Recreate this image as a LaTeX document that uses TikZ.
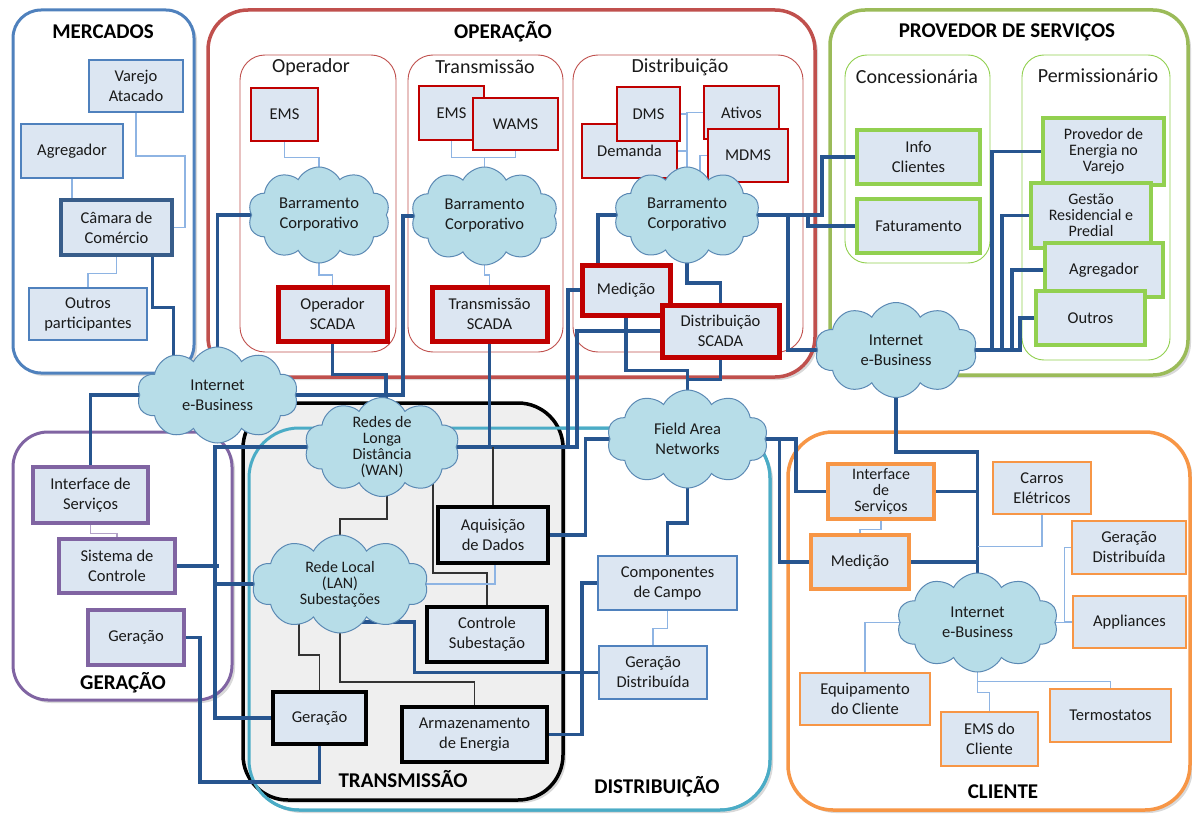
\documentclass[tikz,border=0pt]{standalone}
\usepackage{fontspec}
\setmainfont{Carlito}
\usetikzlibrary{shapes.symbols,calc,shadows}

\definecolor{nodefill}{HTML}{DCE6F2}
\definecolor{buscol}{HTML}{27558F}
\definecolor{linkcol}{HTML}{8EB4E3}
\definecolor{cloudfill}{HTML}{B7DDE8}
\definecolor{cloudline}{HTML}{5B89B4}
\definecolor{mercblue}{HTML}{4F81BD}
\definecolor{mercdark}{HTML}{385D8A}
\definecolor{opred}{HTML}{C0504D}
\definecolor{boxred}{HTML}{C00000}
\definecolor{provgreen}{HTML}{9BBB59}
\definecolor{boxgreen}{HTML}{92D050}
\definecolor{genpurple}{HTML}{8064A2}
\definecolor{linkpurple}{HTML}{B3A2C7}
\definecolor{distteal}{HTML}{4BACC6}
\definecolor{custorange}{HTML}{F79646}
\definecolor{transfill}{HTML}{EFEFEF}
\definecolor{textcol}{HTML}{1A1A1A}

\newcommand\bodyfont{\fontsize{16.5}{20}\selectfont}
\newcommand\tightfont{\fontsize{16}{16}\selectfont}
\newcommand\titlefont{\fontsize{21}{24}\selectfont\bfseries}
\newcommand\subfont{\fontsize{20}{24}\selectfont}

\pgfdeclarelayer{back}
\pgfdeclarelayer{wires}
\pgfsetlayers{back,wires,main}

\tikzset{
  area/.style={line width=3pt, fill=white,
    drop shadow={shadow xshift=3pt, shadow yshift=-3pt, opacity=0.3}},
  subarea/.style={line width=0.9pt, fill=white},
  sz/.style 2 args={minimum width=#1, minimum height=#2},
  box/.style={draw, fill=nodefill, align=center, inner sep=1pt,
    font=\bodyfont, text=textcol},
  tight/.style={font=\tightfont},
  mbox/.style={box, draw=mercblue, line width=1.5pt},
  mboxb/.style={box, draw=mercdark, line width=4.5pt},
  rbox/.style={box, draw=boxred, line width=1.5pt},
  rboxb/.style={box, draw=boxred, line width=5pt},
  gbox/.style={box, draw=boxgreen, line width=4.5pt},
  pbox/.style={box, draw=genpurple, line width=3.5pt},
  kbox/.style={box, draw=black, line width=4pt},
  obox/.style={box, draw=custorange, line width=1.5pt},
  oboxb/.style={box, draw=custorange, line width=4.5pt},
  cloudbox/.style={cloud, cloud puffs=10, cloud puff arc=125,
    cloud ignores aspect, draw=cloudline, fill=cloudfill,
    line width=1pt, inner sep=0pt},
  cloudtxt/.style={font=\bodyfont, align=center, text=textcol},
  cloudtight/.style={font=\tightfont, align=center, text=textcol},
  title/.style={font=\titlefont, text=black},
  sublabel/.style={font=\subfont, text=textcol},
  bus/.style={draw=buscol, line width=3.5pt, line join=miter},
  link/.style={draw=linkcol, line width=1.4pt},
  blink/.style={draw=black!80, line width=1.2pt},
  plink/.style={draw=linkpurple, line width=1.4pt},
}

\begin{document}
\begin{tikzpicture}[x=1pt, y=-1pt]
\useasboundingbox (0,0) rectangle (1192,816);

% ---------- domain frames ----------
\begin{pgfonlayer}{back}
  \draw[area, draw=mercblue, rounded corners=28pt] (13,10) rectangle (194,373);
  \draw[area, draw=opred, line width=3.5pt, rounded corners=40pt] (208,10) rectangle (815,377);
  \draw[subarea, draw=opred, rounded corners=25pt] (240,55) rectangle (396,352);
  \draw[subarea, draw=opred, rounded corners=25pt] (408,55) rectangle (563,352);
  \draw[subarea, draw=opred, rounded corners=25pt] (573,55) rectangle (803,352);
  \draw[area, draw=provgreen, line width=3.5pt, rounded corners=35pt] (830,10) rectangle (1188,375);
  \draw[subarea, draw=boxgreen, rounded corners=22pt] (845,55) rectangle (990,263);
  \draw[subarea, draw=boxgreen, rounded corners=22pt] (1022,55) rectangle (1170,360);
  \draw[area, draw=genpurple, rounded corners=35pt] (13,432) rectangle (232,700);
  \draw[area, draw=custorange, line width=3.5pt, rounded corners=45pt] (788,432) rectangle (1190,810);
  \draw[area, draw=distteal, rounded corners=50pt] (249,428) rectangle (770,810);
  \draw[area, draw=black, fill=transfill, line width=3.5pt, rounded corners=45pt] (243,403) rectangle (563,800);
  \draw[draw=distteal, line width=3pt, rounded corners=50pt] (249,428) rectangle (770,810);
\end{pgfonlayer}

% ---------- titles ----------
\node[title] (tMerc) at (103,32) {MERCADOS};
\node[title] (tOper) at (503,32) {OPERAÇÃO};
\node[title] (tProv) at (1007,32) {PROVEDOR DE SERVIÇOS};
\node[title] (tGer) at (123,683) {GERAÇÃO};
\node[title] (tTrans) at (403,779) {TRANSMISSÃO};
\node[title] (tDist) at (657,787) {DISTRIBUIÇÃO};
\node[title] (tCli) at (1003,792) {CLIENTE};
\node[sublabel] (sOp) at (311,67) {Operador};
\node[sublabel] (sTr) at (485,67) {Transmissão};
\node[sublabel] (sDi) at (680,67) {Distribuição};
\node[sublabel] (sCo) at (917,77) {Concessionária};
\node[sublabel] (sPe) at (1098,76) {Permissionário};

% ---------- Mercados ----------
\node[mbox, sz={94}{52}] (varejo) at (136,86) {Varejo\\Atacado};
\node[mbox, sz={102}{54}] (agreg) at (72,151) {Agregador};
\node[mboxb, sz={111}{55}] (camara) at (116.5,227.5) {Câmara de\\Comércio};
\node[mbox, sz={118}{52}] (outros) at (88,314) {Outros\\participantes};

% ---------- Operação ----------
\node[rbox, sz={67}{53}] (emsO) at (284.5,114.5) {EMS};
\node[cloudbox, sz={142}{96}, label={[cloudtxt]center:Barramento\\Corporativo}] (busO) at (319,215) {};
\node[rboxb, sz={109}{54}] (scadaO) at (332.5,314) {Operador\\SCADA};

\node[rbox, sz={65}{54}] (emsT) at (451.5,113) {EMS};
\node[rbox, sz={85}{52}] (wams) at (515.5,124) {WAMS};
\node[cloudbox, sz={147}{98}, label={[cloudtxt]center:Barramento\\Corporativo}] (busT) at (484.5,216) {};
\node[rboxb, sz={115}{54}] (scadaT) at (489.5,314) {Transmissão\\SCADA};

\node[rbox, sz={95}{54}] (demanda) at (629.5,151) {Demanda};
\node[rbox, sz={63}{54}] (dms) at (648.5,114) {DMS};
\node[rbox, sz={75}{53}] (ativos) at (741.5,112.5) {Ativos};
\node[rbox, sz={80}{53}] (mdms) at (748,155.5) {MDMS};
\node[cloudbox, sz={146}{96}, label={[cloudtxt]center:Barramento\\Corporativo}] (busD) at (687,215) {};
\node[rboxb, sz={88}{50}] (medD) at (626,290) {Medição};
\node[rboxb, sz={117}{52}] (scadaD) at (720.5,331) {Distribuição\\SCADA};

% ---------- Provedor de serviços ----------
\node[gbox, sz={123}{54}] (info) at (918.5,157) {Info\\Clientes};
\node[gbox, sz={123}{54}] (fat) at (918.5,226) {Faturamento};
\node[gbox, tight, sz={121}{67}] (prov) at (1103.5,151.5) {Provedor de\\Energia no\\Varejo};
\node[gbox, tight, sz={120}{65}] (gestao) at (1091,215.5) {Gestão\\Residencial e\\Predial};
\node[gbox, sz={118}{54}] (agregP) at (1104,270) {Agregador};
\node[gbox, sz={109}{54}] (outrosP) at (1090.5,318) {Outros};
\node[cloudbox, sz={162}{95}, label={[cloudtxt]center:Internet\\e-Business}] (inet2) at (896,350) {};

% ---------- networks ----------
\node[cloudbox, sz={161}{96}, label={[cloudtxt]center:Internet\\e-Business}] (inet1) at (217.5,395) {};
\node[cloudbox, sz={155}{99}, label={[cloudtight]center:Redes de\\Longa\\Distância\\(WAN)}] (wan) at (382,447) {};

% ---------- Geração ----------
\node[pbox, sz={115}{56}] (ifaceG) at (90.5,495) {Interface de\\Serviços};
\node[pbox, sz={116}{54}] (sisG) at (117,566) {Sistema de\\Controle};
\node[pbox, sz={96}{55}] (gerG) at (136,637.5) {Geração};

% ---------- Transmissão ----------
\node[cloudbox, sz={176}{98}, label={[cloudtight]center:Rede Local\\(LAN)\\Subestações}] (lan) at (340,584) {};
\node[kbox, sz={93}{52}] (gerT) at (319.5,718) {Geração};
\node[kbox, sz={110}{56}] (aquis) at (493,535) {Aquisição\\de Dados};
\node[kbox, sz={120}{55}] (ctrl) at (487,634.5) {Controle\\Subestação};
\node[kbox, sz={145}{55}] (armaz) at (474.5,734.5) {Armazenamento\\de Energia};

% ---------- Distribuição ----------
\node[cloudbox, sz={161}{98}, label={[cloudtxt]center:Field Area\\Networks}] (fan) at (687.5,439) {};
\node[mbox, sz={139}{54}] (comp) at (667.5,583) {Componentes\\de Campo};
\node[mbox, sz={108}{53}] (gdD) at (653,672.5) {Geração\\Distribuída};

% ---------- Cliente ----------
\node[oboxb, tight, sz={106}{55}] (ifaceC) at (881,491.5) {Interface\\de\\Serviços};
\node[oboxb, sz={98}{54}] (medC) at (860,562) {Medição};
\node[obox, sz={98}{52}] (carros) at (1042,488) {Carros\\Elétricos};
\node[obox, sz={114}{53}] (gdC) at (1129,547.5) {Geração\\Distribuída};
\node[obox, sz={113}{52}] (appl) at (1129.5,622) {Appliances};
\node[obox, sz={130}{52}] (equip) at (865,699) {Equipamento\\do Cliente};
\node[obox, sz={97}{54}] (emsC) at (989.5,739) {EMS do\\Cliente};
\node[obox, sz={121}{53}] (termo) at (1110.5,715.5) {Termostatos};
\node[cloudbox, sz={161}{99}, label={[cloudtxt]center:Internet\\e-Business}] (inet3) at (977.5,622.5) {};

% ---------- connectors ----------
\begin{pgfonlayer}{wires}
  % Mercados
  \draw[link] (varejo.south) |- (185,156) |- (camara.east);
  \draw[link] (agreg.south) -- ++(0,39) -| (camara.north);
  \draw[link] (camara.south) -- ++(0,16) -| (outros.north);
  \draw[bus] ($(camara.south)+(36,0)$) -- ++(0,50) -| ($(inet1.center)+(-44,0)$);

  % Operador
  \draw[link] (emsO.south) -- ++(0,16) -| (busO.center);
  \draw[link] (busO.center) -- ++(0,60) -| (scadaO.north);
  \draw[bus] (busO.center) -| (inet1.center);
  \draw[bus] (scadaO.south) -- ++(0,31) -| ($(wan.center)+(4,0)$);

  % Transmissão (operação)
  \draw[link] (emsT.south) -- ++(0,17) -| (wams.south);
  \draw[link] (busT.center) -- ++(0,-59);
  \draw[link] (busT.center) -- ++(0,59) -| (scadaT.north);
  \draw[bus] (busT.center) -| ($(inet1.center)+(185.5,0)$) -- (inet1.center);
  \draw[bus] (scadaT.south) -- (scadaT.south |- wan.center);

  % Distribuição (operação)
  \draw[link] (busD.center) |- (ativos.west);
  \draw[link] (dms.east) -- (dms.east -| busD.center);
  \draw[link] (demanda.east) -- (demanda.east -| busD.center);
  \draw[link] (mdms.west) -| ($(busD.center)+(13,0)$);
  \draw[bus] (busD.center) -| ($(medD.north)+(-28,0)$);
  \draw[bus] (busD.center) -- ++(0,68) -| (scadaD.north);
  \draw[bus] (busD.center) -- ++(135,0) |- (info.west);
  \draw[bus] ($(busD.center)+(121,0)$) |- (fat.west);
  \draw[bus] ($(busD.center)+(101,0)$) |- (inet2.center);

  % WAN backbone
  \draw[bus] (wan.center) -- ++(195,0) |- (scadaD.west);
  \draw[bus] ($(wan.center)+(186,0)$) |- (medD.west);
  \draw[bus] (medD.south) -- ++(0,53) -| (fan.center);
  \draw[bus] (scadaD.south) -- ++(0,20) -| (fan.center);

  % Field Area Networks
  \draw[bus] (aquis.east) -| ($(fan.center)+(-102,0)$) -- (fan.center);
  \draw[bus] (fan.center) -- ++(0,84) -| (comp.north);
  \draw[link] (comp.south) -- ++(0,18) -| (gdD.north);
  \draw[bus] (comp.west) -| ($(armaz.east)+(33,0)$) -- (armaz.east);
  \draw[bus] ($(lan.center)+(0,38)$) -| ($(gdD.west)+(-184,0)$) -- (gdD.west);
  \draw[bus] (fan.center) -| ($(ifaceC.west)+(-30,0)$) -- (ifaceC.west);
  \draw[bus] ($(fan.center)+(92,0)$) |- (medC.west);

  % Geração and substation
  \draw[bus] (wan.center) -| ($(gerT.west)+(-56,0)$) -- (gerT.west);
  \draw[bus] (sisG.east) -- ++(42,0);
  \draw[bus] (lan.center) -- ++(-123,0);
  \draw[bus] (gerG.east) -- ++(14,0) |- ($(gerT.south)+(0,36)$) -- (gerT.south);
  \draw[bus] (inet1.center) -| (ifaceG.north);
  \draw[plink] (ifaceG.south) -- ++(0,9) -| (sisG.north);

  \draw[blink] ($(wan.center)+(5,0)$) -- ++(0,72) -| (lan.center);
  \draw[blink] ($(lan.center)+(-41,0)$) -- ++(0,71) -| (gerT.north);
  \draw[blink] (lan.center) -- ++(0,98) -| (armaz.north);
  \draw[blink] ($(wan.center)+(51,0)$) -- ++(0,126) -| (ctrl.north);
  \draw[blink] (aquis.north) -- (aquis.north |- wan.center);
  \draw[link] (lan.center) -| ($(aquis.south)+(2,0)$);

  % Provedor de serviços
  \draw[bus] (inet2.center) -- ++(124,0) |- (outrosP.west);
  \draw[bus] ($(inet2.center)+(116,0)$) |- (agregP.west);
  \draw[bus] ($(inet2.center)+(106,0)$) |- (gestao.west);
  \draw[bus] ($(inet2.center)+(96,0)$) |- (prov.west);

  % Cliente
  \draw[bus] (inet2.center) -- ++(0,102) -| (inet3.center);
  \draw[bus] (ifaceC.east) -- (ifaceC.east -| inet3.center);
  \draw[bus] (medC.east) -- (medC.east -| inet3.center);
  \draw[link] (ifaceC.south) -- ++(0,8) -| (medC.north);
  \draw[link] (carros.south) |- ($(inet3.center)+(0,-76)$);
  \draw[link] (gdC.west) -| ($(inet3.center)+(87,0)$) -- (inet3.center);
  \draw[link] (appl.west) -- ++(-8.5,0);
  \draw[link] (inet3.center) -| (equip.north);
  \draw[link] (inet3.center) -- ++(0,70) -| (emsC.north);
  \draw[link] ($(inet3.center)+(0,59)$) -| (termo.north);
\end{pgfonlayer}
\end{tikzpicture}
\end{document}
